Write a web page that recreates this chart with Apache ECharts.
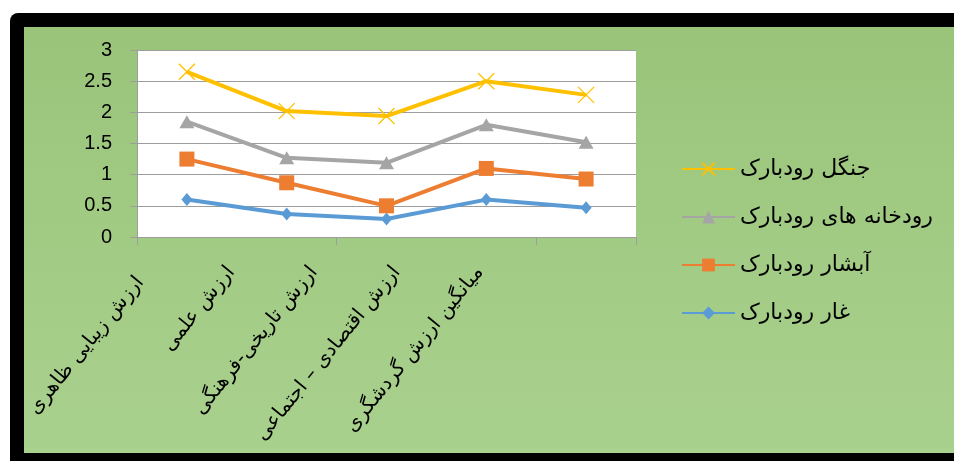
<!DOCTYPE html>
<html><head><meta charset="utf-8">
<script src="https://cdn.jsdelivr.net/npm/echarts@6/dist/echarts.min.js"></script>
<style>
html,body{margin:0;padding:0;background:#fff;width:954px;height:461px;overflow:hidden}
#frame{position:absolute;left:10px;top:13px;width:960px;height:460px;background:#000;border-top-left-radius:8px}
#chart{position:absolute;left:24px;top:27px;width:930px;height:426px}
</style></head>
<body>
<div id="frame"></div>
<div id="chart"></div>
<script>
const categories = ['ارزش زیبایی ظاهری','ارزش علمی','ارزش تاریخی-فرهنگی','ارزش اقتصادی – اجتماعی','میانگین ارزش گردشگری'];
const seriesNames = ['جنگل رودبارک','رودخانه های رودبارک','آبشار رودبارک','غار رودبارک'];
const jangal = [2.65, 2.02, 1.94, 2.5, 2.28];
const rudkhane = [1.85, 1.27, 1.19, 1.8, 1.52];
const abshar = [1.25, 0.87, 0.5, 1.1, 0.93];
const ghar = [0.6, 0.37, 0.29, 0.6, 0.47];
const yTicks = [0, 0.5, 1, 1.5, 2, 2.5, 3];

const chart = echarts.init(document.getElementById('chart'));
const arabicFont = 'DejaVu Sans';
function mk(name, data, color, symbol, size, extra) {
  return Object.assign({
    name, type: 'line', data, symbol, symbolSize: size,
    lineStyle: {color, width: 4},
    itemStyle: {color, borderColor: color, borderWidth: 0},
    emphasis: {disabled: true}, animation: false, z: 3
  }, extra || {});
}
const labelData = categories.map((c, i) => i === 0 ? {value: c, textStyle: {padding: [21, 13, 0, 0]}} : c);
chart.setOption({
  backgroundColor: {type: 'linear', x: 0, y: 0, x2: 0, y2: 1,
    colorStops: [{offset: 0, color: '#9ac47a'}, {offset: 1, color: '#a9d18e'}]},
  animation: false,
  grid: [
    {left: 113, top: 23, width: 499, height: 187, show: true, backgroundColor: '#fff', borderWidth: 0},
    {left: 72, top: 23, width: 425, height: 187, show: false}
  ],
  xAxis: [
    {type: 'category', data: categories, gridIndex: 0, boundaryGap: true,
     axisLine: {lineStyle: {color: '#9d9d9d', width: 1}},
     axisTick: {show: true, length: 8, lineStyle: {color: '#9d9d9d'}},
     axisLabel: {show: false}},
    {type: 'category', data: labelData, gridIndex: 1, boundaryGap: true,
     axisLine: {show: false}, axisTick: {show: false},
     axisLabel: {show: true, interval: 0, rotate: 51, margin: 32, color: '#000',
       fontFamily: arabicFont, fontSize: 20}}
  ],
  yAxis: [
    {type: 'value', gridIndex: 0, min: yTicks[0], max: yTicks[yTicks.length - 1], interval: 0.5,
     axisLine: {show: true, lineStyle: {color: '#9d9d9d'}},
     axisTick: {show: true, length: 7, lineStyle: {color: '#9d9d9d'}},
     splitLine: {show: true, lineStyle: {color: '#9d9d9d', width: 1}},
     axisLabel: {color: '#000', fontFamily: 'Liberation Sans', fontSize: 20, margin: 25}},
    {type: 'value', gridIndex: 1, show: false, min: 0, max: 3}
  ],
  legend: {
    orient: 'vertical', left: 652, top: 126, itemWidth: 53, itemHeight: 16, itemGap: 26,
    data: seriesNames,
    textStyle: {color: '#000', fontFamily: arabicFont, fontSize: 22, lineHeight: 16},
    selectedMode: false
  },
  series: [
    mk(seriesNames[3], ghar, '#5b9bd5', 'diamond', [11, 13]),
    mk(seriesNames[2], abshar, '#ed7d31', 'rect', 15),
    mk(seriesNames[1], rudkhane, '#a5a5a5', 'triangle', [15, 13]),
    mk(seriesNames[0], jangal, '#ffc000', 'path://M0,0L10,10M10,0L0,10', 16,
       {itemStyle: {color: '#ffc000', borderColor: '#ffc000', borderWidth: 1.3}})
  ]
});
</script>
</body></html>
